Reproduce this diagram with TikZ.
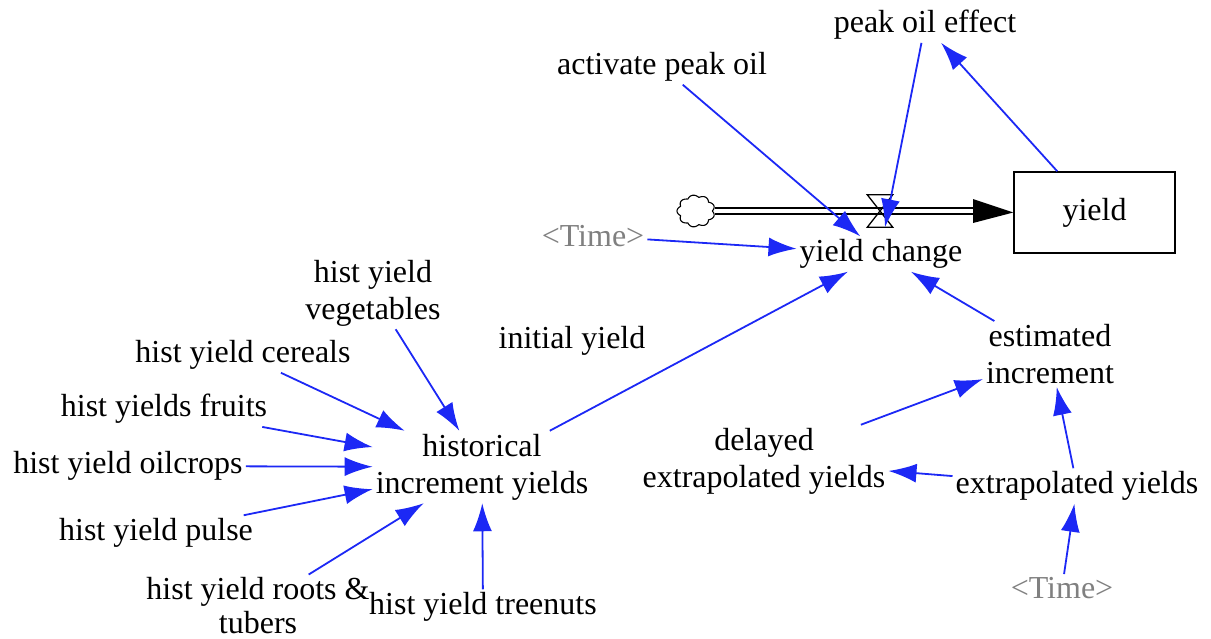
\documentclass[tikz,border=0pt]{standalone}
\usepackage{fontspec}
\setmainfont{Liberation Serif}
\usetikzlibrary{arrows.meta}
\definecolor{linkblue}{RGB}{28,40,245}
\definecolor{shadowgray}{RGB}{128,128,128}
\begin{document}
\begin{tikzpicture}[x=1pt,y=-1pt,
  every node/.style={font=\fontsize{32}{37}\selectfont, inner sep=3pt, align=center},
  ghost/.style={text=shadowgray},
  link/.style={draw=linkblue, line width=1.8pt, -{Latex[length=28pt,width=19pt]}},
  pipe/.style={double, double distance=4.6pt, line width=1.6pt},
  stockbox/.style={draw, line width=1.5pt, minimum width=161pt, minimum height=81pt},
  srcbox/.style={minimum width=38pt, minimum height=32pt, inner sep=0pt},
  cloudline/.style={draw, line width=1.1pt, fill=white, line join=round},
  valveshape/.style={minimum width=25pt, minimum height=32pt, inner sep=0pt},
]
\useasboundingbox (0,0) rectangle (1211,638);

% stock and flow
\node[stockbox] (stock) at (1094.5,212.5) {yield};
\node[srcbox] (src) at (696,211) {};
\node[valveshape] (valve) at (880,211) {};
\coordinate (pipeend) at (973,211);
\draw[pipe] (src.east) -- (pipeend);
\draw[cloudline, shift={(src.center)}] plot[domain=0:356, samples=90]
  ({19*cos(\x)*(0.86+0.14*abs(sin(4.5*\x)))}, {16*sin(\x)*(0.86+0.14*abs(sin(4.5*\x)))}) -- cycle;
\fill (stock.west) -- ([yshift=12pt]pipeend) -- ([yshift=-12pt]pipeend) -- cycle;
\draw[line width=1.3pt] (valve.north west) -- (valve.north east) -- (valve.south west) -- (valve.south east) -- cycle;

% variables
\node (peak) at (925,25) {peak oil effect};
\node (activate) at (662,67) {activate peak oil};
\node (change) at (881,254) {yield change};
\node[ghost] (time1) at (593,236) {<Time>};
\node (veg) at (373,293) {hist yield\\vegetables};
\node (initial) at (572,341) {initial yield};
\node (cereals) at (243,355) {hist yield cereals};
\node (estimated) at (1050,354) {estimated\\increment};
\node (fruits) at (164,409) {hist yields fruits};
\node (historical) at (482,467) {historical\\increment yields};
\node (delayed) at (764,461) {delayed\\extrapolated yields};
\node (oilcrops) at (128,466) {hist yield oilcrops};
\node (extrap) at (1077,486) {extrapolated yields};
\node (pulse) at (156,533) {hist yield pulse};
\node (roots) at (258,606) {hist yield roots \&\\[-3pt]tubers};
\node (treenuts) at (483,607) {hist yield treenuts};
\node[ghost] (time2) at (1062,588) {<Time>};

% links
\draw[link] (activate) -- (change);
\draw[link] (peak) -- ([xshift=5pt]valve.south);
\draw[link] (stock) -- (peak);
\draw[link] (time1) -- (change);
\draw[link] (historical) -- (change);
\draw[link] (estimated) -- (change);
\draw[link] (veg) -- (historical);
\draw[link] (cereals) -- (historical);
\draw[link] (fruits) -- (historical);
\draw[link] (oilcrops) -- (historical);
\draw[link] (pulse) -- (historical);
\draw[link] (roots) -- (historical);
\draw[link] (treenuts) -- (historical);
\draw[link] (delayed) -- (estimated);
\draw[link] (extrap) -- (estimated);
\draw[link] (extrap) -- (delayed);
\draw[link] (time2) -- (extrap);
\end{tikzpicture}
\end{document}
